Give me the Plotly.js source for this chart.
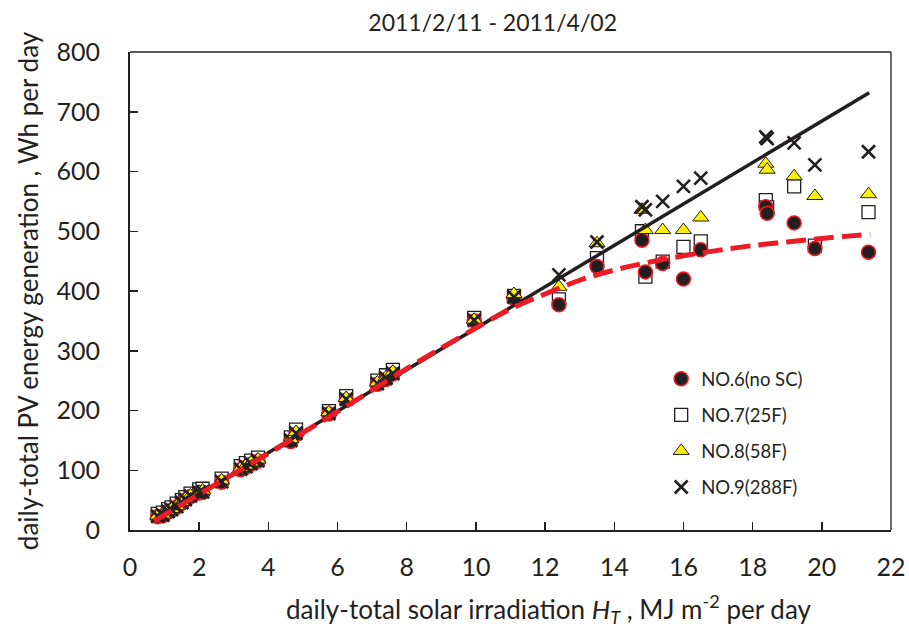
<!DOCTYPE html>
<html>
<head>
<meta charset="utf-8">
<script src="https://cdn.plot.ly/plotly-3.0.1.min.js"></script>
<style>html,body{margin:0;padding:0;background:#fff;}#chart{width:909px;height:628px;}</style>
</head>
<body>
<div id="chart"></div>
<script>
// daily-total solar irradiation H_T (MJ m^-2 per day)
var irradiation = [0.8, 0.95, 1.1, 1.2, 1.35, 1.5, 1.6, 1.75, 2.0, 2.1, 2.65, 3.2, 3.35, 3.5, 3.7,
  4.65, 4.8, 5.75, 6.25, 7.15, 7.4, 7.6, 9.95, 11.1, 12.4, 13.5, 14.8, 14.9, 15.4, 16.0, 16.5,
  18.38, 18.42, 19.2, 19.8, 21.35];
// daily-total PV energy generation (Wh per day)
var no6 = [22, 24, 30, 33, 38, 45, 50, 56, 62, 63, 80, 101, 105, 110, 115,
  148, 160, 194, 217, 244, 252, 261, 350, 388, 377, 441, 485, 432, 446, 420, 469,
  541, 530, 514, 471, 465];
var no7 = [27, 29, 35, 38, 44, 50, 55, 61, 68, 69, 86, 107, 112, 116, 121,
  155, 168, 199, 224, 250, 259, 268, 355, 392, 386, 455, 500, 424, 449, 474, 483,
  552, 540, 575, 476, 532];
var no8 = [24, 26, 32, 35, 40, 47, 52, 58, 64, 66, 83, 104, 108, 113, 118,
  152, 164, 197, 221, 247, 256, 265, 352, 395, 407, 480, 536, 502, 502, 502, 523,
  613, 603, 592, 559, 562];
var no9 = [23, 25, 31, 34, 39, 46, 51, 57, 63, 64, 81, 102, 106, 111, 116,
  150, 162, 195, 219, 245, 254, 262, 351, 390, 427, 482, 541, 536, 550, 575, 589,
  658, 655, 648, 611, 633];
// fitted lines
var linearX = [0.7, 21.37];
var linearY = [15, 732];
var curveX = [0.7, 2, 4, 6, 8, 10, 11, 12, 13, 14, 15, 16, 17, 18, 19, 20, 21.4];
var curveY = [15, 60, 128, 198, 270, 338, 370, 395, 418, 435, 448, 459, 468, 476, 482, 488, 495];
var seriesNames = ['NO.6(no SC)', 'NO.7(25F)', 'NO.8(58F)', 'NO.9(288F)'];
var xTicks = [0, 2, 4, 6, 8, 10, 12, 14, 16, 18, 20, 22];
var yTicks = [0, 100, 200, 300, 400, 500, 600, 700, 800];

var FONT = 'Lato, "Open Sans", sans-serif';
var INK = '#231f20';
var RED = '#ed1c24';

var tr7 = {x: irradiation, y: no7, name: seriesNames[1], mode: 'markers', type: 'scatter',
  legendgroup: 'g7',
  marker: {symbol: 'square', size: 13, color: '#ffffff', line: {color: INK, width: 1.3}}};
var tr6 = {x: irradiation, y: no6, name: seriesNames[0], mode: 'markers', type: 'scatter',
  legendgroup: 'g6',
  marker: {symbol: 'circle', size: 14, color: INK, line: {color: RED, width: 1.5}}};
var tr8 = {x: irradiation, y: no8, name: seriesNames[2], mode: 'markers', type: 'scatter',
  legendgroup: 'g8',
  marker: {symbol: 'triangle-up', size: 14, color: '#fff200', line: {color: INK, width: 1}}};
var tr9 = {x: irradiation, y: no9, name: seriesNames[3], mode: 'markers', type: 'scatter',
  legendgroup: 'g9',
  marker: {symbol: 'x-thin', size: 13, color: INK, line: {color: INK, width: 2.6}}};
tr6.legendrank = 1; tr7.legendrank = 2; tr8.legendrank = 3; tr9.legendrank = 4;
var trLin = {x: linearX, y: linearY, mode: 'lines', type: 'scatter', showlegend: false,
  hoverinfo: 'skip', line: {color: INK, width: 3.5}};
var trCurve = {x: curveX, y: curveY, mode: 'lines', type: 'scatter', showlegend: false,
  hoverinfo: 'skip', line: {color: RED, width: 5, dash: '20px,8px', shape: 'spline'}};

var layout = {
  width: 909, height: 628,
  margin: {l: 130, r: 18, t: 52, b: 98},
  paper_bgcolor: '#ffffff', plot_bgcolor: '#ffffff',
  font: {family: FONT, color: INK},
  showlegend: true,
  title: {text: '2011/2/11 - 2011/4/02', font: {family: FONT, size: 23, color: INK},
    xref: 'container', x: 0.542, xanchor: 'center', yref: 'container', y: 0.963, yanchor: 'middle'},
  xaxis: {range: [0, 22], tickvals: xTicks, ticktext: xTicks.map(String),
    ticks: 'inside', ticklen: 8, tickwidth: 1.5, tickcolor: INK,
    showline: true, linewidth: 2, linecolor: INK, showgrid: false, zeroline: false,
    tickfont: {family: FONT, size: 25, color: INK}, ticklabelstandoff: 14},
  yaxis: {range: [0, 800], tickvals: yTicks, ticktext: yTicks.map(String),
    ticks: 'inside', ticklen: 8, tickwidth: 1.5, tickcolor: INK,
    showline: true, linewidth: 2, linecolor: INK, showgrid: false, zeroline: false,
    tickfont: {family: FONT, size: 25, color: INK}, ticklabelstandoff: 23,
    title: {text: 'daily-total PV energy generation , Wh per day',
      font: {family: FONT, size: 26, color: INK}, standoff: 10}},
  legend: {x: 0.698, y: 0.355, xanchor: 'left', yanchor: 'top', bgcolor: 'rgba(0,0,0,0)',
    font: {family: FONT, size: 18.5, color: INK}, traceorder: 'grouped', tracegroupgap: 9},
  shapes: [
    {type: 'line', xref: 'paper', yref: 'paper', x0: 0, x1: 1, y0: 1, y1: 1, line: {color: INK, width: 1.3}},
    {type: 'line', xref: 'paper', yref: 'paper', x0: 1, x1: 1, y0: 0, y1: 1, line: {color: INK, width: 1.3}}
  ],
  annotations: [
    {xref: 'paper', yref: 'paper', x: 0.55, y: -0.165, xanchor: 'center', yanchor: 'middle',
     showarrow: false, font: {family: FONT, size: 26, color: INK},
     text: 'daily-total solar irradiation <i>H</i><sub><i>T</i></sub> , MJ m<sup>-2</sup> per day'}
  ]
};

Plotly.newPlot('chart', [tr7, tr6, tr8, tr9, trLin, trCurve], layout, {displayModeBar: false, staticPlot: true});
</script>
</body>
</html>
